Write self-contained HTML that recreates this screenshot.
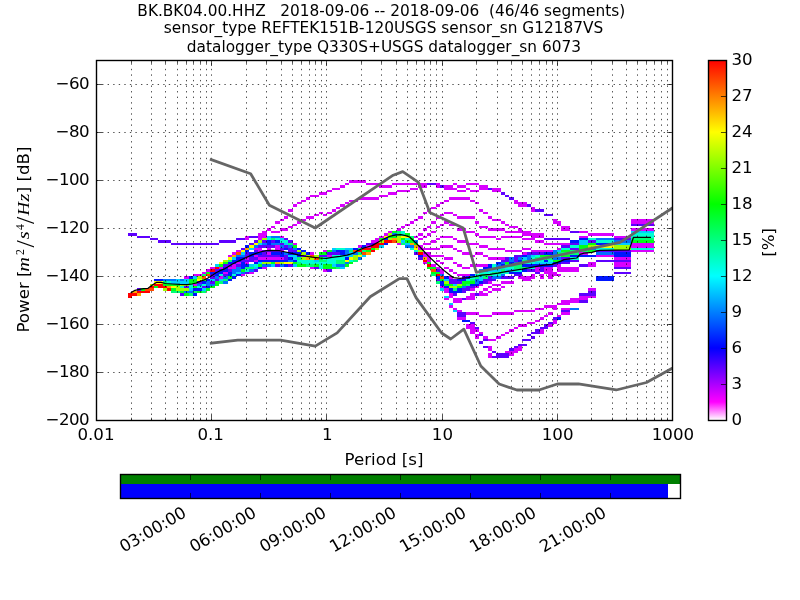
<!DOCTYPE html>
<html lang="en"><head><meta charset="utf-8"><title>PPSD BK.BK04.00.HHZ</title>
<style>html,body{margin:0;padding:0;background:#fff;}body{width:800px;height:600px;overflow:hidden;}svg{display:block;will-change:transform;}text{font-family:"DejaVu Sans","Liberation Sans",sans-serif;fill:#000;}.t{font-size:16.67px;}.ti{font-size:15.34px;}.mi{font-family:"Liberation Serif","DejaVu Serif",serif;font-style:italic;}.mr{font-family:"Liberation Serif","DejaVu Serif",serif;}</style></head><body>
<svg width="800" height="600" viewBox="0 0 800 600">
<defs>
<clipPath id="ax"><rect x="96.0" y="60.0" width="576.0" height="360.0"/></clipPath>
<linearGradient id="cb" x1="0" y1="0" x2="0" y2="1"><stop offset="0.000" stop-color="#ff0000"/><stop offset="0.200" stop-color="#ffff00"/><stop offset="0.400" stop-color="#00ff00"/><stop offset="0.600" stop-color="#00ffff"/><stop offset="0.800" stop-color="#0000ff"/><stop offset="0.950" stop-color="#ff00ff"/><stop offset="1.000" stop-color="#ffffff"/></linearGradient>
</defs>
<rect width="800" height="600" fill="#fff"/>
<g id="hist" shape-rendering="crispEdges" transform="translate(-0.5,0.49)">
<path fill="#d900ff" d="M488.30 355.20H492.64V357.60H488.30ZM488.30 352.80H492.64V355.20H488.30ZM509.98 352.80H514.31V355.20H509.98ZM505.64 350.40H518.65V352.80H505.64ZM488.30 348.00H492.64V350.40H488.30ZM514.31 348.00H522.98V350.40H514.31ZM488.30 345.60H492.64V348.00H488.30ZM518.65 345.60H522.98V348.00H518.65ZM488.30 338.40H496.97V340.80H488.30ZM475.30 336.00H479.63V338.40H475.30ZM483.97 336.00H488.30V338.40H483.97ZM496.97 336.00H501.31V338.40H496.97ZM475.30 333.60H479.63V336.00H475.30ZM501.31 333.60H505.64V336.00H501.31ZM470.96 331.20H475.30V333.60H470.96ZM479.63 331.20H483.97V333.60H479.63ZM505.64 331.20H509.98V333.60H505.64ZM540.32 331.20H544.66V333.60H540.32ZM470.96 328.80H479.63V331.20H470.96ZM509.98 328.80H514.31V331.20H509.98ZM540.32 328.80H544.66V331.20H540.32ZM466.63 326.40H475.30V328.80H466.63ZM514.31 326.40H518.65V328.80H514.31ZM466.63 324.00H475.30V326.40H466.63ZM518.65 324.00H527.32V326.40H518.65ZM548.99 324.00H553.32V326.40H548.99ZM527.32 321.60H535.99V324.00H527.32ZM553.32 321.60H557.66V324.00H553.32ZM535.99 319.20H540.32V321.60H535.99ZM553.32 319.20H557.66V321.60H553.32ZM457.96 316.80H466.63V319.20H457.96ZM540.32 316.80H544.66V319.20H540.32ZM479.63 314.40H492.64V316.80H479.63ZM544.66 314.40H548.99V316.80H544.66ZM557.66 314.40H561.99V316.80H557.66ZM466.63 312.00H479.63V314.40H466.63ZM492.64 312.00H514.31V314.40H492.64ZM548.99 312.00H553.32V314.40H548.99ZM561.99 312.00H570.66V314.40H561.99ZM457.96 309.60H462.29V312.00H457.96ZM514.31 309.60H535.99V312.00H514.31ZM453.62 307.20H457.96V309.60H453.62ZM535.99 307.20H544.66V309.60H535.99ZM553.32 307.20H557.66V309.60H553.32ZM561.99 307.20H570.66V309.60H561.99ZM449.29 304.80H453.62V307.20H449.29ZM544.66 304.80H557.66V307.20H544.66ZM557.66 302.40H570.66V304.80H557.66ZM453.62 300.00H462.29V302.40H453.62ZM561.99 300.00H579.33V302.40H561.99ZM444.95 297.60H449.29V300.00H444.95ZM453.62 297.60H462.29V300.00H453.62ZM466.63 297.60H475.30V300.00H466.63ZM570.66 297.60H588.00V300.00H570.66ZM449.29 295.20H453.62V297.60H449.29ZM466.63 295.20H475.30V297.60H466.63ZM579.33 295.20H596.67V297.60H579.33ZM449.29 292.80H453.62V295.20H449.29ZM470.96 292.80H475.30V295.20H470.96ZM479.63 292.80H488.30V295.20H479.63ZM444.95 290.40H449.29V292.80H444.95ZM479.63 290.40H483.97V292.80H479.63ZM488.30 290.40H492.64V292.80H488.30ZM444.95 288.00H449.29V290.40H444.95ZM470.96 288.00H475.30V290.40H470.96ZM483.97 288.00H488.30V290.40H483.97ZM492.64 288.00H501.31V290.40H492.64ZM588.00 288.00H596.67V290.40H588.00ZM440.62 285.60H444.95V288.00H440.62ZM475.30 285.60H479.63V288.00H475.30ZM488.30 285.60H492.64V288.00H488.30ZM501.31 285.60H505.64V288.00H501.31ZM193.53 283.20H197.87V285.60H193.53ZM479.63 283.20H483.97V285.60H479.63ZM492.64 283.20H501.31V285.60H492.64ZM488.30 280.80H492.64V283.20H488.30ZM501.31 280.80H514.31V283.20H501.31ZM522.98 278.40H531.65V280.80H522.98ZM184.86 276.00H189.20V278.40H184.86ZM219.54 276.00H223.88V278.40H219.54ZM449.29 276.00H453.62V278.40H449.29ZM518.65 276.00H535.99V278.40H518.65ZM540.32 276.00H544.66V278.40H540.32ZM548.99 276.00H553.32V278.40H548.99ZM193.53 273.60H202.20V276.00H193.53ZM241.22 273.60H245.55V276.00H241.22ZM457.96 273.60H470.96V276.00H457.96ZM531.65 273.60H535.99V276.00H531.65ZM540.32 273.60H544.66V276.00H540.32ZM548.99 273.60H561.99V276.00H548.99ZM202.20 271.20H206.54V273.60H202.20ZM223.88 271.20H228.21V273.60H223.88ZM249.89 271.20H254.22V273.60H249.89ZM440.62 271.20H444.95V273.60H440.62ZM453.62 271.20H457.96V273.60H453.62ZM544.66 271.20H557.66V273.60H544.66ZM206.54 268.80H210.87V271.20H206.54ZM323.58 268.80H327.91V271.20H323.58ZM440.62 268.80H444.95V271.20H440.62ZM449.29 268.80H453.62V271.20H449.29ZM535.99 268.80H540.32V271.20H535.99ZM544.66 268.80H553.32V271.20H544.66ZM557.66 268.80H579.33V271.20H557.66ZM210.87 266.40H215.21V268.80H210.87ZM219.54 266.40H223.88V268.80H219.54ZM228.21 266.40H236.88V268.80H228.21ZM262.89 266.40H267.23V268.80H262.89ZM310.57 266.40H314.91V268.80H310.57ZM436.28 266.40H440.62V268.80H436.28ZM444.95 266.40H449.29V268.80H444.95ZM462.29 266.40H470.96V268.80H462.29ZM535.99 266.40H540.32V268.80H535.99ZM544.66 266.40H553.32V268.80H544.66ZM557.66 266.40H579.33V268.80H557.66ZM232.55 264.00H236.88V266.40H232.55ZM431.95 264.00H436.28V266.40H431.95ZM457.96 264.00H462.29V266.40H457.96ZM470.96 264.00H488.30V266.40H470.96ZM557.66 264.00H561.99V266.40H557.66ZM588.00 264.00H596.67V266.40H588.00ZM614.01 264.00H631.35V266.40H614.01ZM236.88 261.60H241.22V264.00H236.88ZM245.55 261.60H249.89V264.00H245.55ZM423.28 261.60H427.61V264.00H423.28ZM440.62 261.60H444.95V264.00H440.62ZM453.62 261.60H457.96V264.00H453.62ZM588.00 261.60H596.67V264.00H588.00ZM614.01 261.60H631.35V264.00H614.01ZM254.22 259.20H258.56V261.60H254.22ZM427.61 259.20H431.95V261.60H427.61ZM436.28 259.20H440.62V261.60H436.28ZM245.55 256.80H249.89V259.20H245.55ZM258.56 256.80H284.57V259.20H258.56ZM427.61 256.80H431.95V259.20H427.61ZM444.95 256.80H453.62V259.20H444.95ZM488.30 256.80H505.64V259.20H488.30ZM614.01 256.80H631.35V259.20H614.01ZM228.21 254.40H232.55V256.80H228.21ZM254.22 254.40H258.56V256.80H254.22ZM327.91 254.40H332.25V256.80H327.91ZM423.28 254.40H444.95V256.80H423.28ZM470.96 254.40H475.30V256.80H470.96ZM483.97 254.40H488.30V256.80H483.97ZM596.67 254.40H614.01V256.80H596.67ZM232.55 252.00H236.88V254.40H232.55ZM267.23 252.00H271.56V254.40H267.23ZM310.57 252.00H314.91V254.40H310.57ZM423.28 252.00H431.95V254.40H423.28ZM462.29 252.00H470.96V254.40H462.29ZM475.30 252.00H483.97V254.40H475.30ZM522.98 252.00H527.32V254.40H522.98ZM579.33 252.00H588.00V254.40H579.33ZM236.88 249.60H241.22V252.00H236.88ZM258.56 249.60H262.89V252.00H258.56ZM280.23 249.60H284.57V252.00H280.23ZM323.58 249.60H327.91V252.00H323.58ZM457.96 249.60H462.29V252.00H457.96ZM505.64 249.60H522.98V252.00H505.64ZM531.65 249.60H553.32V252.00H531.65ZM631.35 249.60H654.03V252.00H631.35ZM254.22 247.20H262.89V249.60H254.22ZM267.23 247.20H271.56V249.60H267.23ZM275.90 247.20H280.23V249.60H275.90ZM418.94 247.20H440.62V249.60H418.94ZM453.62 247.20H457.96V249.60H453.62ZM488.30 247.20H505.64V249.60H488.30ZM522.98 247.20H531.65V249.60H522.98ZM557.66 247.20H561.99V249.60H557.66ZM275.90 244.80H280.23V247.20H275.90ZM358.26 244.80H362.59V247.20H358.26ZM366.93 244.80H371.26V247.20H366.93ZM418.94 244.80H423.28V247.20H418.94ZM440.62 244.80H453.62V247.20H440.62ZM479.63 244.80H488.30V247.20H479.63ZM631.35 244.80H654.03V247.20H631.35ZM293.23 242.40H297.57V244.80H293.23ZM397.27 242.40H401.61V244.80H397.27ZM423.28 242.40H431.95V244.80H423.28ZM466.63 242.40H479.63V244.80H466.63ZM544.66 242.40H570.66V244.80H544.66ZM631.35 242.40H654.03V244.80H631.35ZM371.26 240.00H379.93V242.40H371.26ZM431.95 240.00H436.28V242.40H431.95ZM457.96 240.00H466.63V242.40H457.96ZM535.99 240.00H544.66V242.40H535.99ZM245.55 237.60H249.89V240.00H245.55ZM258.56 237.60H262.89V240.00H258.56ZM375.60 237.60H379.93V240.00H375.60ZM418.94 237.60H423.28V240.00H418.94ZM436.28 237.60H440.62V240.00H436.28ZM453.62 237.60H457.96V240.00H453.62ZM496.97 237.60H501.31V240.00H496.97ZM522.98 237.60H535.99V240.00H522.98ZM245.55 235.20H249.89V237.60H245.55ZM258.56 235.20H267.23V237.60H258.56ZM280.23 235.20H284.57V237.60H280.23ZM379.93 235.20H384.27V237.60H379.93ZM414.61 235.20H418.94V237.60H414.61ZM423.28 235.20H427.61V237.60H423.28ZM440.62 235.20H453.62V237.60H440.62ZM479.63 235.20H496.97V237.60H479.63ZM501.31 235.20H522.98V237.60H501.31ZM531.65 235.20H544.66V237.60H531.65ZM579.33 235.20H588.00V237.60H579.33ZM614.01 235.20H631.35V237.60H614.01ZM258.56 232.80H267.23V235.20H258.56ZM384.27 232.80H388.60V235.20H384.27ZM418.94 232.80H423.28V235.20H418.94ZM427.61 232.80H431.95V235.20H427.61ZM475.30 232.80H479.63V235.20H475.30ZM522.98 232.80H544.66V235.20H522.98ZM588.00 232.80H614.01V235.20H588.00ZM262.89 230.40H267.23V232.80H262.89ZM271.56 230.40H280.23V232.80H271.56ZM388.60 230.40H392.94V232.80H388.60ZM431.95 230.40H436.28V232.80H431.95ZM466.63 230.40H475.30V232.80H466.63ZM505.64 230.40H531.65V232.80H505.64ZM579.33 230.40H588.00V232.80H579.33ZM267.23 228.00H271.56V230.40H267.23ZM280.23 228.00H288.90V230.40H280.23ZM397.27 228.00H401.61V230.40H397.27ZM423.28 228.00H427.61V230.40H423.28ZM457.96 228.00H466.63V230.40H457.96ZM488.30 228.00H505.64V230.40H488.30ZM518.65 228.00H522.98V230.40H518.65ZM561.99 228.00H570.66V230.40H561.99ZM631.35 228.00H654.03V230.40H631.35ZM271.56 225.60H275.90V228.00H271.56ZM288.90 225.60H293.23V228.00H288.90ZM401.61 225.60H405.94V228.00H401.61ZM427.61 225.60H431.95V228.00H427.61ZM436.28 225.60H440.62V228.00H436.28ZM479.63 225.60H488.30V228.00H479.63ZM509.98 225.60H518.65V228.00H509.98ZM561.99 225.60H570.66V228.00H561.99ZM293.23 223.20H297.57V225.60H293.23ZM405.94 223.20H410.28V225.60H405.94ZM440.62 223.20H444.95V225.60H440.62ZM449.29 223.20H457.96V225.60H449.29ZM505.64 223.20H509.98V225.60H505.64ZM557.66 223.20H561.99V225.60H557.66ZM275.90 220.80H280.23V223.20H275.90ZM297.57 220.80H301.90V223.20H297.57ZM410.28 220.80H414.61V223.20H410.28ZM431.95 220.80H436.28V223.20H431.95ZM444.95 220.80H449.29V223.20H444.95ZM475.30 220.80H479.63V223.20H475.30ZM501.31 220.80H505.64V223.20H501.31ZM553.32 220.80H561.99V223.20H553.32ZM631.35 220.80H654.03V223.20H631.35ZM280.23 218.40H284.57V220.80H280.23ZM301.90 218.40H306.24V220.80H301.90ZM414.61 218.40H418.94V220.80H414.61ZM492.64 218.40H501.31V220.80H492.64ZM553.32 218.40H557.66V220.80H553.32ZM631.35 218.40H654.03V220.80H631.35ZM284.57 216.00H288.90V218.40H284.57ZM306.24 216.00H314.91V218.40H306.24ZM418.94 216.00H423.28V218.40H418.94ZM436.28 216.00H440.62V218.40H436.28ZM457.96 216.00H475.30V218.40H457.96ZM488.30 216.00H492.64V218.40H488.30ZM314.91 213.60H319.24V216.00H314.91ZM323.58 213.60H327.91V216.00H323.58ZM440.62 213.60H444.95V216.00H440.62ZM453.62 213.60H457.96V216.00H453.62ZM319.24 211.20H323.58V213.60H319.24ZM327.91 211.20H332.25V213.60H327.91ZM423.28 211.20H427.61V213.60H423.28ZM444.95 211.20H453.62V213.60H444.95ZM483.97 211.20H488.30V213.60H483.97ZM288.90 208.80H293.23V211.20H288.90ZM332.25 208.80H336.58V211.20H332.25ZM427.61 208.80H431.95V211.20H427.61ZM479.63 208.80H483.97V211.20H479.63ZM531.65 208.80H535.99V211.20H531.65ZM336.58 206.40H340.92V208.80H336.58ZM431.95 206.40H436.28V208.80H431.95ZM531.65 206.40H535.99V208.80H531.65ZM293.23 204.00H297.57V206.40H293.23ZM340.92 204.00H345.25V206.40H340.92ZM436.28 204.00H440.62V206.40H436.28ZM518.65 204.00H527.32V206.40H518.65ZM297.57 201.60H301.90V204.00H297.57ZM345.25 201.60H349.59V204.00H345.25ZM440.62 201.60H444.95V204.00H440.62ZM475.30 201.60H479.63V204.00H475.30ZM514.31 201.60H527.32V204.00H514.31ZM301.90 199.20H306.24V201.60H301.90ZM349.59 199.20H358.26V201.60H349.59ZM444.95 199.20H449.29V201.60H444.95ZM470.96 199.20H475.30V201.60H470.96ZM514.31 199.20H518.65V201.60H514.31ZM306.24 196.80H310.57V199.20H306.24ZM358.26 196.80H379.93V199.20H358.26ZM449.29 196.80H470.96V199.20H449.29ZM310.57 194.40H319.24V196.80H310.57ZM379.93 194.40H388.60V196.80H379.93ZM319.24 192.00H327.91V194.40H319.24ZM388.60 192.00H397.27V194.40H388.60ZM327.91 189.60H332.25V192.00H327.91ZM397.27 189.60H410.28V192.00H397.27ZM457.96 189.60H466.63V192.00H457.96ZM470.96 189.60H479.63V192.00H470.96ZM492.64 189.60H501.31V192.00H492.64ZM332.25 187.20H340.92V189.60H332.25ZM410.28 187.20H418.94V189.60H410.28ZM444.95 187.20H457.96V189.60H444.95ZM466.63 187.20H470.96V189.60H466.63ZM479.63 187.20H488.30V189.60H479.63ZM492.64 187.20H501.31V189.60H492.64ZM340.92 184.80H345.25V187.20H340.92ZM379.93 184.80H392.94V187.20H379.93ZM418.94 184.80H427.61V187.20H418.94ZM436.28 184.80H440.62V187.20H436.28ZM444.95 184.80H453.62V187.20H444.95ZM457.96 184.80H466.63V187.20H457.96ZM479.63 184.80H488.30V187.20H479.63ZM345.25 182.40H349.59V184.80H345.25ZM366.93 182.40H379.93V184.80H366.93ZM392.94 182.40H427.61V184.80H392.94ZM436.28 182.40H440.62V184.80H436.28ZM453.62 182.40H457.96V184.80H453.62ZM466.63 182.40H479.63V184.80H466.63ZM349.59 180.00H366.93V182.40H349.59Z"/>
<path fill="#5e00ff" d="M492.64 355.20H509.98V357.60H492.64ZM496.97 352.80H509.98V355.20H496.97ZM492.64 350.40H496.97V352.80H492.64ZM509.98 348.00H514.31V350.40H509.98ZM483.97 345.60H488.30V348.00H483.97ZM514.31 345.60H518.65V348.00H514.31ZM518.65 343.20H527.32V345.60H518.65ZM479.63 340.80H483.97V343.20H479.63ZM483.97 338.40H488.30V340.80H483.97ZM522.98 338.40H531.65V340.80H522.98ZM531.65 336.00H535.99V338.40H531.65ZM479.63 333.60H483.97V336.00H479.63ZM527.32 333.60H531.65V336.00H527.32ZM531.65 331.20H540.32V333.60H531.65ZM535.99 328.80H540.32V331.20H535.99ZM475.30 326.40H479.63V328.80H475.30ZM540.32 326.40H548.99V328.80H540.32ZM544.66 324.00H548.99V326.40H544.66ZM470.96 321.60H475.30V324.00H470.96ZM548.99 321.60H553.32V324.00H548.99ZM553.32 316.80H557.66V319.20H553.32ZM457.96 314.40H466.63V316.80H457.96ZM457.96 312.00H466.63V314.40H457.96ZM561.99 309.60H570.66V312.00H561.99ZM579.33 300.00H588.00V302.40H579.33ZM462.29 297.60H466.63V300.00H462.29ZM180.53 292.80H184.86V295.20H180.53ZM453.62 292.80H457.96V295.20H453.62ZM475.30 292.80H479.63V295.20H475.30ZM579.33 292.80H596.67V295.20H579.33ZM462.29 290.40H466.63V292.80H462.29ZM588.00 290.40H596.67V292.80H588.00ZM137.18 288.00H141.52V290.40H137.18ZM462.29 288.00H470.96V290.40H462.29ZM184.86 285.60H189.20V288.00H184.86ZM202.20 285.60H206.54V288.00H202.20ZM466.63 285.60H475.30V288.00H466.63ZM197.87 280.80H202.20V283.20H197.87ZM210.87 280.80H215.21V283.20H210.87ZM449.29 280.80H462.29V283.20H449.29ZM483.97 280.80H488.30V283.20H483.97ZM215.21 278.40H219.54V280.80H215.21ZM436.28 278.40H440.62V280.80H436.28ZM449.29 278.40H457.96V280.80H449.29ZM483.97 278.40H496.97V280.80H483.97ZM210.87 276.00H215.21V278.40H210.87ZM462.29 276.00H466.63V278.40H462.29ZM488.30 276.00H492.64V278.40H488.30ZM501.31 276.00H514.31V278.40H501.31ZM210.87 273.60H215.21V276.00H210.87ZM223.88 273.60H228.21V276.00H223.88ZM514.31 273.60H522.98V276.00H514.31ZM245.55 271.20H249.89V273.60H245.55ZM535.99 271.20H540.32V273.60H535.99ZM614.01 271.20H631.35V273.60H614.01ZM215.21 268.80H219.54V271.20H215.21ZM228.21 268.80H232.55V271.20H228.21ZM254.22 268.80H258.56V271.20H254.22ZM327.91 268.80H332.25V271.20H327.91ZM436.28 268.80H440.62V271.20H436.28ZM527.32 268.80H535.99V271.20H527.32ZM540.32 268.80H544.66V271.20H540.32ZM314.91 266.40H319.24V268.80H314.91ZM540.32 266.40H544.66V268.80H540.32ZM614.01 266.40H631.35V268.80H614.01ZM223.88 264.00H232.55V266.40H223.88ZM236.88 264.00H241.22V266.40H236.88ZM275.90 264.00H280.23V266.40H275.90ZM288.90 264.00H293.23V266.40H288.90ZM553.32 264.00H557.66V266.40H553.32ZM579.33 264.00H588.00V266.40H579.33ZM561.99 261.60H570.66V264.00H561.99ZM241.22 259.20H254.22V261.60H241.22ZM501.31 259.20H509.98V261.60H501.31ZM514.31 259.20H518.65V261.60H514.31ZM570.66 259.20H579.33V261.60H570.66ZM596.67 259.20H631.35V261.60H596.67ZM249.89 256.80H258.56V259.20H249.89ZM284.57 256.80H288.90V259.20H284.57ZM418.94 256.80H423.28V259.20H418.94ZM505.64 256.80H509.98V259.20H505.64ZM514.31 256.80H518.65V259.20H514.31ZM561.99 256.80H570.66V259.20H561.99ZM245.55 254.40H249.89V256.80H245.55ZM258.56 254.40H280.23V256.80H258.56ZM284.57 254.40H288.90V256.80H284.57ZM301.90 254.40H306.24V256.80H301.90ZM319.24 254.40H327.91V256.80H319.24ZM514.31 254.40H522.98V256.80H514.31ZM245.55 252.00H249.89V254.40H245.55ZM262.89 252.00H267.23V254.40H262.89ZM327.91 252.00H340.92V254.40H327.91ZM414.61 252.00H418.94V254.40H414.61ZM527.32 252.00H544.66V254.40H527.32ZM254.22 249.60H258.56V252.00H254.22ZM262.89 249.60H280.23V252.00H262.89ZM288.90 249.60H297.57V252.00H288.90ZM596.67 249.60H631.35V252.00H596.67ZM241.22 247.20H245.55V249.60H241.22ZM280.23 247.20H284.57V249.60H280.23ZM288.90 247.20H293.23V249.60H288.90ZM570.66 247.20H579.33V249.60H570.66ZM258.56 244.80H275.90V247.20H258.56ZM284.57 244.80H288.90V247.20H284.57ZM561.99 244.80H570.66V247.20H561.99ZM171.86 242.40H219.54V244.80H171.86ZM249.89 242.40H254.22V244.80H249.89ZM280.23 242.40H284.57V244.80H280.23ZM366.93 242.40H375.60V244.80H366.93ZM570.66 242.40H579.33V244.80H570.66ZM158.86 240.00H171.86V242.40H158.86ZM219.54 240.00H236.88V242.40H219.54ZM254.22 240.00H258.56V242.40H254.22ZM262.89 240.00H267.23V242.40H262.89ZM271.56 240.00H275.90V242.40H271.56ZM288.90 240.00H293.23V242.40H288.90ZM588.00 240.00H596.67V242.40H588.00ZM150.19 237.60H158.86V240.00H150.19ZM236.88 237.60H245.55V240.00H236.88ZM284.57 237.60H288.90V240.00H284.57ZM544.66 237.60H570.66V240.00H544.66ZM614.01 237.60H631.35V240.00H614.01ZM137.18 235.20H150.19V237.60H137.18ZM249.89 235.20H258.56V237.60H249.89ZM128.51 232.80H137.18V235.20H128.51ZM570.66 230.40H579.33V232.80H570.66ZM631.35 223.20H654.03V225.60H631.35ZM544.66 213.60H553.32V216.00H544.66ZM535.99 208.80H544.66V211.20H535.99ZM527.32 204.00H531.65V206.40H527.32ZM509.98 196.80H514.31V199.20H509.98ZM505.64 194.40H509.98V196.80H505.64ZM501.31 192.00H505.64V194.40H501.31ZM488.30 187.20H492.64V189.60H488.30ZM440.62 184.80H444.95V187.20H440.62ZM427.61 182.40H436.28V184.80H427.61Z"/>
<path fill="#0016ff" d="M462.29 319.20H470.96V321.60H462.29ZM557.66 316.80H561.99V319.20H557.66ZM193.53 292.80H197.87V295.20H193.53ZM449.29 290.40H462.29V292.80H449.29ZM193.53 288.00H202.20V290.40H193.53ZM449.29 288.00H453.62V290.40H449.29ZM457.96 288.00H462.29V290.40H457.96ZM206.54 285.60H210.87V288.00H206.54ZM444.95 285.60H449.29V288.00H444.95ZM440.62 283.20H444.95V285.60H440.62ZM470.96 283.20H479.63V285.60H470.96ZM202.20 280.80H206.54V283.20H202.20ZM440.62 280.80H444.95V283.20H440.62ZM479.63 280.80H483.97V283.20H479.63ZM154.52 278.40H163.19V280.80H154.52ZM206.54 278.40H210.87V280.80H206.54ZM228.21 278.40H232.55V280.80H228.21ZM457.96 278.40H466.63V280.80H457.96ZM596.67 278.40H614.01V280.80H596.67ZM189.20 276.00H193.53V278.40H189.20ZM232.55 276.00H236.88V278.40H232.55ZM436.28 276.00H440.62V278.40H436.28ZM444.95 276.00H449.29V278.40H444.95ZM466.63 276.00H470.96V278.40H466.63ZM596.67 276.00H614.01V278.40H596.67ZM215.21 273.60H219.54V276.00H215.21ZM228.21 273.60H232.55V276.00H228.21ZM236.88 273.60H241.22V276.00H236.88ZM470.96 273.60H475.30V276.00H470.96ZM210.87 271.20H223.88V273.60H210.87ZM228.21 271.20H232.55V273.60H228.21ZM509.98 271.20H522.98V273.60H509.98ZM219.54 268.80H228.21V271.20H219.54ZM522.98 268.80H527.32V271.20H522.98ZM223.88 266.40H228.21V268.80H223.88ZM241.22 266.40H245.55V268.80H241.22ZM258.56 266.40H262.89V268.80H258.56ZM483.97 266.40H492.64V268.80H483.97ZM241.22 264.00H249.89V266.40H241.22ZM284.57 264.00H288.90V266.40H284.57ZM488.30 264.00H492.64V266.40H488.30ZM501.31 264.00H505.64V266.40H501.31ZM522.98 264.00H553.32V266.40H522.98ZM228.21 261.60H236.88V264.00H228.21ZM241.22 261.60H245.55V264.00H241.22ZM254.22 261.60H258.56V264.00H254.22ZM496.97 261.60H501.31V264.00H496.97ZM509.98 261.60H514.31V264.00H509.98ZM553.32 261.60H561.99V264.00H553.32ZM232.55 259.20H241.22V261.60H232.55ZM258.56 259.20H288.90V261.60H258.56ZM293.23 259.20H297.57V261.60H293.23ZM518.65 259.20H522.98V261.60H518.65ZM544.66 259.20H548.99V261.60H544.66ZM561.99 259.20H570.66V261.60H561.99ZM236.88 256.80H245.55V259.20H236.88ZM288.90 256.80H293.23V259.20H288.90ZM345.25 256.80H349.59V259.20H345.25ZM249.89 254.40H254.22V256.80H249.89ZM280.23 254.40H284.57V256.80H280.23ZM297.57 254.40H301.90V256.80H297.57ZM418.94 254.40H423.28V256.80H418.94ZM522.98 254.40H527.32V256.80H522.98ZM570.66 254.40H596.67V256.80H570.66ZM614.01 254.40H631.35V256.80H614.01ZM249.89 252.00H262.89V254.40H249.89ZM271.56 252.00H284.57V254.40H271.56ZM288.90 252.00H301.90V254.40H288.90ZM306.24 252.00H310.57V254.40H306.24ZM340.92 252.00H345.25V254.40H340.92ZM544.66 252.00H553.32V254.40H544.66ZM614.01 252.00H631.35V254.40H614.01ZM245.55 249.60H249.89V252.00H245.55ZM301.90 249.60H306.24V252.00H301.90ZM336.58 249.60H345.25V252.00H336.58ZM284.57 247.20H288.90V249.60H284.57ZM297.57 247.20H301.90V249.60H297.57ZM353.92 247.20H358.26V249.60H353.92ZM245.55 244.80H249.89V247.20H245.55ZM362.59 244.80H366.93V247.20H362.59ZM267.23 242.40H271.56V244.80H267.23ZM384.27 242.40H388.60V244.80H384.27ZM596.67 242.40H614.01V244.80H596.67ZM267.23 240.00H271.56V242.40H267.23ZM275.90 240.00H280.23V242.40H275.90ZM570.66 240.00H579.33V242.40H570.66ZM384.27 237.60H388.60V240.00H384.27ZM579.33 237.60H588.00V240.00H579.33Z"/>
<path fill="#0073ff" d="M570.66 307.20H579.33V309.60H570.66ZM184.86 290.40H193.53V292.80H184.86ZM462.29 285.60H466.63V288.00H462.29ZM197.87 283.20H202.20V285.60H197.87ZM206.54 283.20H215.21V285.60H206.54ZM206.54 280.80H210.87V283.20H206.54ZM223.88 280.80H228.21V283.20H223.88ZM475.30 280.80H479.63V283.20H475.30ZM163.19 278.40H176.19V280.80H163.19ZM180.53 278.40H184.86V280.80H180.53ZM475.30 278.40H479.63V280.80H475.30ZM215.21 276.00H219.54V278.40H215.21ZM223.88 276.00H228.21V278.40H223.88ZM492.64 276.00H501.31V278.40H492.64ZM440.62 273.60H444.95V276.00H440.62ZM501.31 273.60H505.64V276.00H501.31ZM232.55 271.20H236.88V273.60H232.55ZM241.22 271.20H245.55V273.60H241.22ZM232.55 268.80H241.22V271.20H232.55ZM249.89 268.80H254.22V271.20H249.89ZM479.63 268.80H488.30V271.20H479.63ZM236.88 266.40H241.22V268.80H236.88ZM262.89 264.00H271.56V266.40H262.89ZM280.23 264.00H284.57V266.40H280.23ZM336.58 264.00H345.25V266.40H336.58ZM496.97 264.00H501.31V266.40H496.97ZM345.25 261.60H349.59V264.00H345.25ZM501.31 261.60H505.64V264.00H501.31ZM514.31 261.60H522.98V264.00H514.31ZM288.90 259.20H293.23V261.60H288.90ZM509.98 259.20H514.31V261.60H509.98ZM358.26 256.80H362.59V259.20H358.26ZM509.98 256.80H514.31V259.20H509.98ZM518.65 256.80H522.98V259.20H518.65ZM527.32 256.80H531.65V259.20H527.32ZM553.32 256.80H561.99V259.20H553.32ZM236.88 254.40H245.55V256.80H236.88ZM527.32 254.40H531.65V256.80H527.32ZM284.57 252.00H288.90V254.40H284.57ZM345.25 252.00H349.59V254.40H345.25ZM353.92 252.00H358.26V254.40H353.92ZM553.32 252.00H557.66V254.40H553.32ZM596.67 252.00H614.01V254.40H596.67ZM332.25 249.60H336.58V252.00H332.25ZM345.25 249.60H349.59V252.00H345.25ZM553.32 249.60H557.66V252.00H553.32ZM293.23 247.20H297.57V249.60H293.23ZM588.00 247.20H596.67V249.60H588.00ZM254.22 244.80H258.56V247.20H254.22ZM280.23 244.80H284.57V247.20H280.23ZM288.90 244.80H293.23V247.20H288.90ZM405.94 244.80H414.61V247.20H405.94ZM262.89 242.40H267.23V244.80H262.89ZM271.56 242.40H280.23V244.80H271.56ZM414.61 240.00H418.94V242.40H414.61ZM614.01 240.00H631.35V242.40H614.01ZM596.67 237.60H614.01V240.00H596.67ZM271.56 235.20H280.23V237.60H271.56ZM392.94 232.80H397.27V235.20H392.94Z"/>
<path fill="#00cfff" d="M453.62 309.60H457.96V312.00H453.62ZM449.29 302.40H453.62V304.80H449.29ZM444.95 295.20H449.29V297.60H444.95ZM189.20 288.00H193.53V290.40H189.20ZM202.20 288.00H206.54V290.40H202.20ZM440.62 288.00H444.95V290.40H440.62ZM453.62 283.20H457.96V285.60H453.62ZM171.86 280.80H189.20V283.20H171.86ZM176.19 278.40H180.53V280.80H176.19ZM184.86 278.40H189.20V280.80H184.86ZM210.87 278.40H215.21V280.80H210.87ZM219.54 278.40H223.88V280.80H219.54ZM444.95 278.40H449.29V280.80H444.95ZM479.63 278.40H483.97V280.80H479.63ZM193.53 276.00H197.87V278.40H193.53ZM479.63 276.00H483.97V278.40H479.63ZM236.88 271.20H241.22V273.60H236.88ZM488.30 268.80H501.31V271.20H488.30ZM505.64 268.80H514.31V271.20H505.64ZM254.22 266.40H258.56V268.80H254.22ZM340.92 266.40H345.25V268.80H340.92ZM501.31 266.40H505.64V268.80H501.31ZM215.21 264.00H219.54V266.40H215.21ZM249.89 264.00H254.22V266.40H249.89ZM271.56 264.00H275.90V266.40H271.56ZM293.23 264.00H297.57V266.40H293.23ZM332.25 264.00H336.58V266.40H332.25ZM258.56 261.60H262.89V264.00H258.56ZM535.99 261.60H553.32V264.00H535.99ZM314.91 259.20H319.24V261.60H314.91ZM232.55 256.80H236.88V259.20H232.55ZM293.23 256.80H297.57V259.20H293.23ZM522.98 256.80H527.32V259.20H522.98ZM288.90 254.40H297.57V256.80H288.90ZM345.25 254.40H353.92V256.80H345.25ZM362.59 254.40H366.93V256.80H362.59ZM531.65 254.40H535.99V256.80H531.65ZM241.22 252.00H245.55V254.40H241.22ZM349.59 252.00H353.92V254.40H349.59ZM557.66 249.60H561.99V252.00H557.66ZM249.89 247.20H254.22V249.60H249.89ZM332.25 247.20H336.58V249.60H332.25ZM345.25 247.20H353.92V249.60H345.25ZM379.93 244.80H384.27V247.20H379.93ZM258.56 242.40H262.89V244.80H258.56ZM284.57 242.40H288.90V244.80H284.57ZM405.94 242.40H410.28V244.80H405.94ZM579.33 242.40H588.00V244.80H579.33ZM614.01 242.40H631.35V244.80H614.01ZM401.61 240.00H405.94V242.40H401.61ZM579.33 240.00H588.00V242.40H579.33ZM280.23 237.60H284.57V240.00H280.23ZM267.23 235.20H271.56V237.60H267.23ZM631.35 230.40H654.03V232.80H631.35Z"/>
<path fill="#00ffd3" d="M180.53 285.60H184.86V288.00H180.53ZM189.20 285.60H193.53V288.00H189.20ZM197.87 285.60H202.20V288.00H197.87ZM189.20 283.20H193.53V285.60H189.20ZM202.20 283.20H206.54V285.60H202.20ZM167.52 280.80H171.86V283.20H167.52ZM466.63 278.40H470.96V280.80H466.63ZM470.96 276.00H475.30V278.40H470.96ZM219.54 273.60H223.88V276.00H219.54ZM232.55 273.60H236.88V276.00H232.55ZM475.30 273.60H479.63V276.00H475.30ZM492.64 273.60H501.31V276.00H492.64ZM479.63 271.20H492.64V273.60H479.63ZM501.31 271.20H509.98V273.60H501.31ZM245.55 268.80H249.89V271.20H245.55ZM514.31 268.80H522.98V271.20H514.31ZM319.24 266.40H323.58V268.80H319.24ZM505.64 266.40H514.31V268.80H505.64ZM527.32 266.40H535.99V268.80H527.32ZM254.22 264.00H258.56V266.40H254.22ZM319.24 264.00H323.58V266.40H319.24ZM492.64 264.00H496.97V266.40H492.64ZM301.90 261.60H336.58V264.00H301.90ZM522.98 261.60H535.99V264.00H522.98ZM297.57 259.20H314.91V261.60H297.57ZM327.91 259.20H336.58V261.60H327.91ZM349.59 259.20H353.92V261.60H349.59ZM535.99 259.20H544.66V261.60H535.99ZM548.99 259.20H553.32V261.60H548.99ZM323.58 256.80H345.25V259.20H323.58ZM531.65 256.80H535.99V259.20H531.65ZM570.66 256.80H579.33V259.20H570.66ZM332.25 254.40H345.25V256.80H332.25ZM535.99 254.40H540.32V256.80H535.99ZM553.32 254.40H561.99V256.80H553.32ZM414.61 249.60H418.94V252.00H414.61ZM336.58 247.20H345.25V249.60H336.58ZM410.28 247.20H414.61V249.60H410.28ZM561.99 247.20H570.66V249.60H561.99ZM596.67 247.20H614.01V249.60H596.67ZM631.35 247.20H654.03V249.60H631.35ZM570.66 244.80H579.33V247.20H570.66ZM280.23 240.00H288.90V242.40H280.23ZM596.67 240.00H614.01V242.40H596.67ZM267.23 237.60H271.56V240.00H267.23ZM275.90 237.60H280.23V240.00H275.90ZM405.94 237.60H410.28V240.00H405.94ZM588.00 237.60H596.67V240.00H588.00ZM631.35 235.20H654.03V237.60H631.35ZM401.61 232.80H405.94V235.20H401.61ZM631.35 232.80H654.03V235.20H631.35ZM401.61 230.40H405.94V232.80H401.61Z"/>
<path fill="#00ff76" d="M189.20 292.80H193.53V295.20H189.20ZM171.86 290.40H180.53V292.80H171.86ZM193.53 290.40H197.87V292.80H193.53ZM202.20 290.40H206.54V292.80H202.20ZM453.62 288.00H457.96V290.40H453.62ZM466.63 283.20H470.96V285.60H466.63ZM163.19 280.80H167.52V283.20H163.19ZM219.54 280.80H223.88V283.20H219.54ZM436.28 280.80H440.62V283.20H436.28ZM223.88 278.40H228.21V280.80H223.88ZM470.96 278.40H475.30V280.80H470.96ZM475.30 276.00H479.63V278.40H475.30ZM483.97 276.00H488.30V278.40H483.97ZM202.20 273.60H206.54V276.00H202.20ZM431.95 273.60H436.28V276.00H431.95ZM479.63 273.60H492.64V276.00H479.63ZM492.64 271.20H501.31V273.60H492.64ZM501.31 268.80H505.64V271.20H501.31ZM245.55 266.40H254.22V268.80H245.55ZM336.58 266.40H340.92V268.80H336.58ZM492.64 266.40H501.31V268.80H492.64ZM514.31 266.40H527.32V268.80H514.31ZM306.24 264.00H314.91V266.40H306.24ZM505.64 264.00H522.98V266.40H505.64ZM297.57 261.60H301.90V264.00H297.57ZM336.58 261.60H345.25V264.00H336.58ZM228.21 259.20H232.55V261.60H228.21ZM319.24 259.20H327.91V261.60H319.24ZM336.58 259.20H345.25V261.60H336.58ZM353.92 259.20H358.26V261.60H353.92ZM522.98 259.20H535.99V261.60H522.98ZM297.57 256.80H301.90V259.20H297.57ZM535.99 256.80H553.32V259.20H535.99ZM358.26 252.00H362.59V254.40H358.26ZM557.66 252.00H579.33V254.40H557.66ZM349.59 249.60H353.92V252.00H349.59ZM362.59 249.60H366.93V252.00H362.59ZM570.66 249.60H588.00V252.00H570.66ZM358.26 247.20H362.59V249.60H358.26ZM288.90 242.40H293.23V244.80H288.90ZM401.61 242.40H405.94V244.80H401.61ZM271.56 237.60H275.90V240.00H271.56ZM631.35 237.60H654.03V240.00H631.35ZM410.28 235.20H414.61V237.60H410.28ZM397.27 232.80H401.61V235.20H397.27ZM397.27 230.40H401.61V232.80H397.27Z"/>
<path fill="#00ff1a" d="M184.86 292.80H189.20V295.20H184.86ZM180.53 290.40H184.86V292.80H180.53ZM197.87 290.40H202.20V292.80H197.87ZM141.52 288.00H145.85V290.40H141.52ZM171.86 288.00H176.19V290.40H171.86ZM206.54 288.00H210.87V290.40H206.54ZM154.52 285.60H158.86V288.00H154.52ZM193.53 285.60H197.87V288.00H193.53ZM210.87 285.60H215.21V288.00H210.87ZM457.96 285.60H462.29V288.00H457.96ZM163.19 283.20H180.53V285.60H163.19ZM215.21 283.20H219.54V285.60H215.21ZM444.95 283.20H453.62V285.60H444.95ZM462.29 283.20H466.63V285.60H462.29ZM189.20 280.80H197.87V283.20H189.20ZM215.21 280.80H219.54V283.20H215.21ZM462.29 280.80H475.30V283.20H462.29ZM189.20 278.40H197.87V280.80H189.20ZM202.20 278.40H206.54V280.80H202.20ZM440.62 278.40H444.95V280.80H440.62ZM228.21 276.00H232.55V278.40H228.21ZM206.54 271.20H210.87V273.60H206.54ZM431.95 271.20H440.62V273.60H431.95ZM241.22 268.80H245.55V271.20H241.22ZM323.58 266.40H336.58V268.80H323.58ZM427.61 266.40H436.28V268.80H427.61ZM219.54 264.00H223.88V266.40H219.54ZM258.56 264.00H262.89V266.40H258.56ZM297.57 264.00H306.24V266.40H297.57ZM314.91 264.00H319.24V266.40H314.91ZM323.58 264.00H332.25V266.40H323.58ZM345.25 264.00H349.59V266.40H345.25ZM223.88 261.60H228.21V264.00H223.88ZM271.56 261.60H275.90V264.00H271.56ZM293.23 261.60H297.57V264.00H293.23ZM349.59 261.60H353.92V264.00H349.59ZM427.61 261.60H431.95V264.00H427.61ZM505.64 261.60H509.98V264.00H505.64ZM553.32 259.20H561.99V261.60H553.32ZM319.24 256.80H323.58V259.20H319.24ZM540.32 254.40H553.32V256.80H540.32ZM561.99 254.40H570.66V256.80H561.99ZM319.24 252.00H327.91V254.40H319.24ZM327.91 249.60H332.25V252.00H327.91ZM366.93 249.60H371.26V252.00H366.93ZM561.99 249.60H570.66V252.00H561.99ZM588.00 249.60H596.67V252.00H588.00ZM371.26 247.20H375.60V249.60H371.26ZM579.33 247.20H588.00V249.60H579.33ZM293.23 244.80H297.57V247.20H293.23ZM579.33 244.80H588.00V247.20H579.33ZM414.61 242.40H418.94V244.80H414.61ZM588.00 242.40H596.67V244.80H588.00ZM405.94 240.00H414.61V242.40H405.94ZM631.35 240.00H654.03V242.40H631.35ZM379.93 237.60H384.27V240.00H379.93ZM401.61 237.60H405.94V240.00H401.61ZM410.28 237.60H414.61V240.00H410.28ZM388.60 235.20H397.27V237.60H388.60ZM405.94 232.80H410.28V235.20H405.94ZM392.94 230.40H397.27V232.80H392.94Z"/>
<path fill="#9fff00" d="M163.19 288.00H167.52V290.40H163.19ZM176.19 288.00H189.20V290.40H176.19ZM176.19 285.60H180.53V288.00H176.19ZM449.29 285.60H457.96V288.00H449.29ZM150.19 283.20H154.52V285.60H150.19ZM180.53 283.20H189.20V285.60H180.53ZM457.96 283.20H462.29V285.60H457.96ZM444.95 280.80H449.29V283.20H444.95ZM197.87 276.00H202.20V278.40H197.87ZM262.89 261.60H271.56V264.00H262.89ZM280.23 261.60H284.57V264.00H280.23ZM223.88 259.20H228.21V261.60H223.88ZM301.90 256.80H306.24V259.20H301.90ZM310.57 256.80H314.91V259.20H310.57ZM353.92 256.80H358.26V259.20H353.92ZM306.24 254.40H310.57V256.80H306.24ZM314.91 254.40H319.24V256.80H314.91ZM353.92 254.40H358.26V256.80H353.92ZM301.90 252.00H306.24V254.40H301.90ZM297.57 249.60H301.90V252.00H297.57ZM418.94 249.60H423.28V252.00H418.94ZM375.60 247.20H379.93V249.60H375.60ZM614.01 247.20H631.35V249.60H614.01ZM588.00 244.80H596.67V247.20H588.00ZM614.01 244.80H631.35V247.20H614.01ZM258.56 240.00H262.89V242.40H258.56ZM379.93 240.00H384.27V242.40H379.93ZM397.27 240.00H401.61V242.40H397.27ZM262.89 237.60H267.23V240.00H262.89ZM388.60 237.60H392.94V240.00H388.60ZM397.27 237.60H401.61V240.00H397.27ZM397.27 235.20H401.61V237.60H397.27ZM388.60 232.80H392.94V235.20H388.60Z"/>
<path fill="#fbff00" d="M171.86 285.60H176.19V288.00H171.86ZM154.52 280.80H163.19V283.20H154.52ZM197.87 278.40H202.20V280.80H197.87ZM219.54 261.60H223.88V264.00H219.54ZM284.57 261.60H293.23V264.00H284.57ZM345.25 259.20H349.59V261.60H345.25ZM228.21 256.80H232.55V259.20H228.21ZM349.59 256.80H353.92V259.20H349.59ZM358.26 254.40H362.59V256.80H358.26ZM241.22 249.60H245.55V252.00H241.22ZM414.61 247.20H418.94V249.60H414.61ZM249.89 244.80H254.22V247.20H249.89ZM596.67 244.80H614.01V247.20H596.67ZM254.22 242.40H258.56V244.80H254.22ZM384.27 235.20H388.60V237.60H384.27ZM401.61 235.20H410.28V237.60H401.61Z"/>
<path fill="#ffa600" d="M137.18 292.80H141.52V295.20H137.18ZM132.85 290.40H137.18V292.80H132.85ZM167.52 285.60H171.86V288.00H167.52ZM275.90 261.60H280.23V264.00H275.90ZM306.24 256.80H310.57V259.20H306.24ZM423.28 256.80H427.61V259.20H423.28ZM232.55 254.40H236.88V256.80H232.55ZM366.93 252.00H371.26V254.40H366.93ZM245.55 247.20H249.89V249.60H245.55ZM414.61 244.80H418.94V247.20H414.61ZM410.28 242.40H414.61V244.80H410.28ZM392.94 237.60H397.27V240.00H392.94Z"/>
<path fill="#ff4a00" d="M145.85 288.00H154.52V290.40H145.85ZM202.20 276.00H206.54V278.40H202.20ZM440.62 276.00H444.95V278.40H440.62ZM206.54 273.60H210.87V276.00H206.54ZM431.95 268.80H436.28V271.20H431.95ZM314.91 256.80H319.24V259.20H314.91ZM310.57 254.40H314.91V256.80H310.57ZM236.88 252.00H241.22V254.40H236.88ZM362.59 252.00H366.93V254.40H362.59ZM353.92 249.60H358.26V252.00H353.92ZM392.94 240.00H397.27V242.40H392.94Z"/>
<path fill="#ff0000" d="M128.51 295.20H132.85V297.60H128.51ZM128.51 292.80H137.18V295.20H128.51ZM137.18 290.40H150.19V292.80H137.18ZM167.52 288.00H171.86V290.40H167.52ZM150.19 285.60H154.52V288.00H150.19ZM158.86 285.60H167.52V288.00H158.86ZM154.52 283.20H163.19V285.60H154.52ZM436.28 273.60H440.62V276.00H436.28ZM210.87 268.80H215.21V271.20H210.87ZM215.21 266.40H219.54V268.80H215.21ZM427.61 264.00H431.95V266.40H427.61ZM423.28 259.20H427.61V261.60H423.28ZM418.94 252.00H423.28V254.40H418.94ZM358.26 249.60H362.59V252.00H358.26ZM371.26 249.60H375.60V252.00H371.26ZM362.59 247.20H371.26V249.60H362.59ZM371.26 244.80H379.93V247.20H371.26ZM375.60 242.40H384.27V244.80H375.60ZM384.27 240.00H392.94V242.40H384.27Z"/>
</g>
<g id="grid" stroke="#000" stroke-width="0.69" stroke-dasharray="1.39 4.17" fill="none">
<path d="M131.5 420.5V60.5M151.5 420.5V60.5M165.5 420.5V60.5M177.5 420.5V60.5M186.5 420.5V60.5M193.5 420.5V60.5M200.5 420.5V60.5M206.5 420.5V60.5M211.5 420.5V60.5M246.5 420.5V60.5M266.5 420.5V60.5M281.5 420.5V60.5M292.5 420.5V60.5M301.5 420.5V60.5M309.5 420.5V60.5M315.5 420.5V60.5M321.5 420.5V60.5M326.5 420.5V60.5M361.5 420.5V60.5M381.5 420.5V60.5M396.5 420.5V60.5M407.5 420.5V60.5M416.5 420.5V60.5M424.5 420.5V60.5M430.5 420.5V60.5M436.5 420.5V60.5M442.5 420.5V60.5M476.5 420.5V60.5M497.5 420.5V60.5M511.5 420.5V60.5M522.5 420.5V60.5M531.5 420.5V60.5M539.5 420.5V60.5M546.5 420.5V60.5M552.5 420.5V60.5M557.5 420.5V60.5M591.5 420.5V60.5M612.5 420.5V60.5M626.5 420.5V60.5M637.5 420.5V60.5M646.5 420.5V60.5M654.5 420.5V60.5M661.5 420.5V60.5M667.5 420.5V60.5M96.5 372.5H672.5M96.5 324.5H672.5M96.5 276.5H672.5M96.5 228.5H672.5M96.5 180.5H672.5M96.5 132.5H672.5M96.5 84.5H672.5"/>
</g>
<g id="models" clip-path="url(#ax)" fill="none" stroke="#666666" stroke-width="2.78" stroke-linejoin="round" stroke-linecap="square">
<polyline points="211.20,343.20 237.75,340.08 280.56,340.07 315.24,346.08 337.16,332.87 370.20,296.75 399.38,278.64 406.92,278.63 416.04,297.60 441.60,333.00 450.72,338.99 463.85,329.11 480.82,366.01 499.16,383.99 516.85,390.00 538.96,390.00 557.30,384.00 578.40,383.97 616.23,389.98 646.44,382.51 787.20,304.51"/>
<polyline points="211.20,159.60 250.65,173.77 269.39,205.20 315.24,228.00 393.19,175.19 402.75,171.59 418.48,182.40 429.81,212.39 463.20,228.01 476.28,272.39 620.16,242.41 787.20,132.34"/>
</g>
<polyline id="mean" clip-path="url(#ax)" fill="none" stroke="#000" stroke-width="1.25" stroke-linejoin="round" points="130.7,292.9 135.0,290.3 139.3,289.4 143.7,288.7 148.0,288.3 152.4,285.0 156.7,282.3 161.0,282.4 165.4,283.5 172.8,284.0 180.0,284.4 187.2,284.6 192.0,284.0 196.0,283.0 200.0,281.4 204.0,280.0 208.0,278.0 212.0,275.4 216.0,272.8 220.0,270.7 224.0,269.2 228.0,266.8 232.0,264.2 236.0,262.2 240.0,260.4 244.0,258.5 252.0,254.9 260.0,252.0 266.4,250.6 272.0,250.4 279.2,250.6 285.6,252.0 292.0,253.4 298.0,254.8 304.0,256.0 312.0,257.2 320.0,258.0 326.4,258.4 332.0,257.4 340.0,256.4 347.2,255.2 353.6,253.2 358.0,250.4 364.0,248.0 372.0,245.6 378.4,242.0 383.2,239.2 389.6,236.4 396.0,234.8 400.8,234.6 405.6,235.6 409.3,236.8 412.0,239.2 415.2,242.4 420.0,247.0 428.0,255.6 436.0,263.2 444.0,270.4 450.4,275.6 453.6,277.6 460.0,278.4 468.0,277.6 476.0,276.4 482.0,275.2 490.0,274.4 498.0,273.2 506.0,271.6 514.0,270.4 522.0,269.2 530.0,267.6 538.0,266.2 544.0,265.2 552.0,264.4 556.0,262.8 560.8,261.2 564.0,259.6 569.6,258.8 576.8,258.0 580.0,254.4 584.0,253.2 592.0,252.4 596.0,251.2 600.0,250.4 629.2,249.9 633.5,237.3 650.9,237.3"/>
<g id="frame" stroke="#000" fill="none">
<rect x="96.5" y="60.5" width="576.0" height="360.0" stroke-width="1.39"/>
<path stroke-width="0.69" d="M96.5 420.5v-5.56M96.5 60.5v5.56M131.5 420.5v-2.78M131.5 60.5v2.78M151.5 420.5v-2.78M151.5 60.5v2.78M165.5 420.5v-2.78M165.5 60.5v2.78M177.5 420.5v-2.78M177.5 60.5v2.78M186.5 420.5v-2.78M186.5 60.5v2.78M193.5 420.5v-2.78M193.5 60.5v2.78M200.5 420.5v-2.78M200.5 60.5v2.78M206.5 420.5v-2.78M206.5 60.5v2.78M211.5 420.5v-5.56M211.5 60.5v5.56M246.5 420.5v-2.78M246.5 60.5v2.78M266.5 420.5v-2.78M266.5 60.5v2.78M281.5 420.5v-2.78M281.5 60.5v2.78M292.5 420.5v-2.78M292.5 60.5v2.78M301.5 420.5v-2.78M301.5 60.5v2.78M309.5 420.5v-2.78M309.5 60.5v2.78M315.5 420.5v-2.78M315.5 60.5v2.78M321.5 420.5v-2.78M321.5 60.5v2.78M326.5 420.5v-5.56M326.5 60.5v5.56M361.5 420.5v-2.78M361.5 60.5v2.78M381.5 420.5v-2.78M381.5 60.5v2.78M396.5 420.5v-2.78M396.5 60.5v2.78M407.5 420.5v-2.78M407.5 60.5v2.78M416.5 420.5v-2.78M416.5 60.5v2.78M424.5 420.5v-2.78M424.5 60.5v2.78M430.5 420.5v-2.78M430.5 60.5v2.78M436.5 420.5v-2.78M436.5 60.5v2.78M442.5 420.5v-5.56M442.5 60.5v5.56M476.5 420.5v-2.78M476.5 60.5v2.78M497.5 420.5v-2.78M497.5 60.5v2.78M511.5 420.5v-2.78M511.5 60.5v2.78M522.5 420.5v-2.78M522.5 60.5v2.78M531.5 420.5v-2.78M531.5 60.5v2.78M539.5 420.5v-2.78M539.5 60.5v2.78M546.5 420.5v-2.78M546.5 60.5v2.78M552.5 420.5v-2.78M552.5 60.5v2.78M557.5 420.5v-5.56M557.5 60.5v5.56M591.5 420.5v-2.78M591.5 60.5v2.78M612.5 420.5v-2.78M612.5 60.5v2.78M626.5 420.5v-2.78M626.5 60.5v2.78M637.5 420.5v-2.78M637.5 60.5v2.78M646.5 420.5v-2.78M646.5 60.5v2.78M654.5 420.5v-2.78M654.5 60.5v2.78M661.5 420.5v-2.78M661.5 60.5v2.78M667.5 420.5v-2.78M667.5 60.5v2.78M672.5 420.5v-5.56M672.5 60.5v5.56M96.5 420.5h5.56M672.5 420.5h-5.56M96.5 372.5h5.56M672.5 372.5h-5.56M96.5 324.5h5.56M672.5 324.5h-5.56M96.5 276.5h5.56M672.5 276.5h-5.56M96.5 228.5h5.56M672.5 228.5h-5.56M96.5 180.5h5.56M672.5 180.5h-5.56M96.5 132.5h5.56M672.5 132.5h-5.56M96.5 84.5h5.56M672.5 84.5h-5.56"/>
</g>
<g class="t">
<text x="89.2" y="424.8" text-anchor="end" letter-spacing="-0.5">−200</text>
<text x="89.2" y="376.8" text-anchor="end" letter-spacing="-0.5">−180</text>
<text x="89.2" y="328.8" text-anchor="end" letter-spacing="-0.5">−160</text>
<text x="89.2" y="280.8" text-anchor="end" letter-spacing="-0.5">−140</text>
<text x="89.2" y="232.8" text-anchor="end" letter-spacing="-0.5">−120</text>
<text x="89.2" y="184.8" text-anchor="end" letter-spacing="-0.5">−100</text>
<text x="89.2" y="136.8" text-anchor="end" letter-spacing="-0.5">−80</text>
<text x="89.2" y="88.8" text-anchor="end" letter-spacing="-0.5">−60</text>
<text x="96.0" y="439.8" text-anchor="middle">0.01</text>
<text x="210.7" y="439.8" text-anchor="middle">0.1</text>
<text x="327.2" y="439.8" text-anchor="middle">1</text>
<text x="442.4" y="439.8" text-anchor="middle">10</text>
<text x="557.6" y="439.8" text-anchor="middle">100</text>
<text x="672.9" y="439.8" text-anchor="middle">1000</text>
<text x="384" y="464.5" text-anchor="middle">Period [s]</text>
<text transform="translate(29,332.6) rotate(-90)">Power [</text>
<text transform="translate(29,271.8) rotate(-90) scale(1.2,1)" class="mi" font-size="17">m</text>
<text transform="translate(23.5,254.9) rotate(-90)" class="mr" font-size="11.67">2</text>
<text transform="translate(33.6,247.6) rotate(-90)" class="mr" font-size="26">/</text>
<text transform="translate(29,239.3) rotate(-90) scale(1.2,1)" class="mi" font-size="17">s</text>
<text transform="translate(23.5,229.9) rotate(-90)" class="mr" font-size="11.67">4</text>
<text transform="translate(33.6,224.1) rotate(-90)" class="mr" font-size="26">/</text>
<text transform="translate(29,215.4) rotate(-90) scale(1.1,1)" class="mi" font-size="17">H</text>
<text transform="translate(29,201.6) rotate(-90) scale(1.2,1)" class="mi" font-size="17">z</text>
<text transform="translate(29,193.3) rotate(-90)">] [dB]</text>
</g>
<g class="ti" text-anchor="middle">
<text x="381.3" y="15.8" xml:space="preserve">BK.BK04.00.HHZ   2018-09-06 -- 2018-09-06  (46/46 segments)</text>
<text x="383.5" y="32.8">sensor_type REFTEK151B-120USGS sensor_sn G12187VS</text>
<text x="383.9" y="51.8">datalogger_type Q330S+USGS datalogger_sn 6073</text>
</g>
<rect x="708.0" y="60.0" width="18.0" height="360.0" fill="url(#cb)"/>
<rect x="708.5" y="60.5" width="18.0" height="360.0" fill="none" stroke="#000" stroke-width="1.39"/>
<g class="t">
<text x="731.4" y="424.6">0</text>
<text x="731.4" y="388.6">3</text>
<text x="731.4" y="352.6">6</text>
<text x="731.4" y="316.6">9</text>
<text x="731.4" y="280.6">12</text>
<text x="731.4" y="244.6">15</text>
<text x="731.4" y="208.6">18</text>
<text x="731.4" y="172.6">21</text>
<text x="731.4" y="136.6">24</text>
<text x="731.4" y="100.6">27</text>
<text x="731.4" y="64.6">30</text>
<text transform="translate(773.6,242.3) rotate(-90)" text-anchor="middle">[%]</text>
</g>
<path stroke="#000" stroke-width="0.69" fill="none" d="M726.5 420.5h-5.56M726.5 384.5h-5.56M726.5 348.5h-5.56M726.5 312.5h-5.56M726.5 276.5h-5.56M726.5 240.5h-5.56M726.5 204.5h-5.56M726.5 168.5h-5.56M726.5 132.5h-5.56M726.5 96.5h-5.56M726.5 60.5h-5.56"/>
<rect x="120.0" y="474.0" width="560.0" height="9.6" fill="#008000" shape-rendering="crispEdges"/>
<rect x="120.0" y="483.6" width="548.3" height="14.4" fill="#0000ff" shape-rendering="crispEdges"/>
<rect x="120.5" y="474.5" width="560.0" height="24.0" fill="none" stroke="#000" stroke-width="1.39"/>
<g class="t">
<text transform="translate(184.5,511.0) rotate(-30)" text-anchor="end" dy="0.35em" letter-spacing="-0.15">03:00:00</text>
<text transform="translate(254.5,511.0) rotate(-30)" text-anchor="end" dy="0.35em" letter-spacing="-0.15">06:00:00</text>
<text transform="translate(324.5,511.0) rotate(-30)" text-anchor="end" dy="0.35em" letter-spacing="-0.15">09:00:00</text>
<text transform="translate(394.5,511.0) rotate(-30)" text-anchor="end" dy="0.35em" letter-spacing="-0.15">12:00:00</text>
<text transform="translate(464.5,511.0) rotate(-30)" text-anchor="end" dy="0.35em" letter-spacing="-0.15">15:00:00</text>
<text transform="translate(534.5,511.0) rotate(-30)" text-anchor="end" dy="0.35em" letter-spacing="-0.15">18:00:00</text>
<text transform="translate(604.5,511.0) rotate(-30)" text-anchor="end" dy="0.35em" letter-spacing="-0.15">21:00:00</text>
</g>
<path stroke="#000" stroke-width="0.69" fill="none" d="M190.5 498.5v-5.56M190.5 474.5v5.56M260.5 498.5v-5.56M260.5 474.5v5.56M330.5 498.5v-5.56M330.5 474.5v5.56M400.5 498.5v-5.56M400.5 474.5v5.56M470.5 498.5v-5.56M470.5 474.5v5.56M540.5 498.5v-5.56M540.5 474.5v5.56M610.5 498.5v-5.56M610.5 474.5v5.56"/>
</svg></body></html>
